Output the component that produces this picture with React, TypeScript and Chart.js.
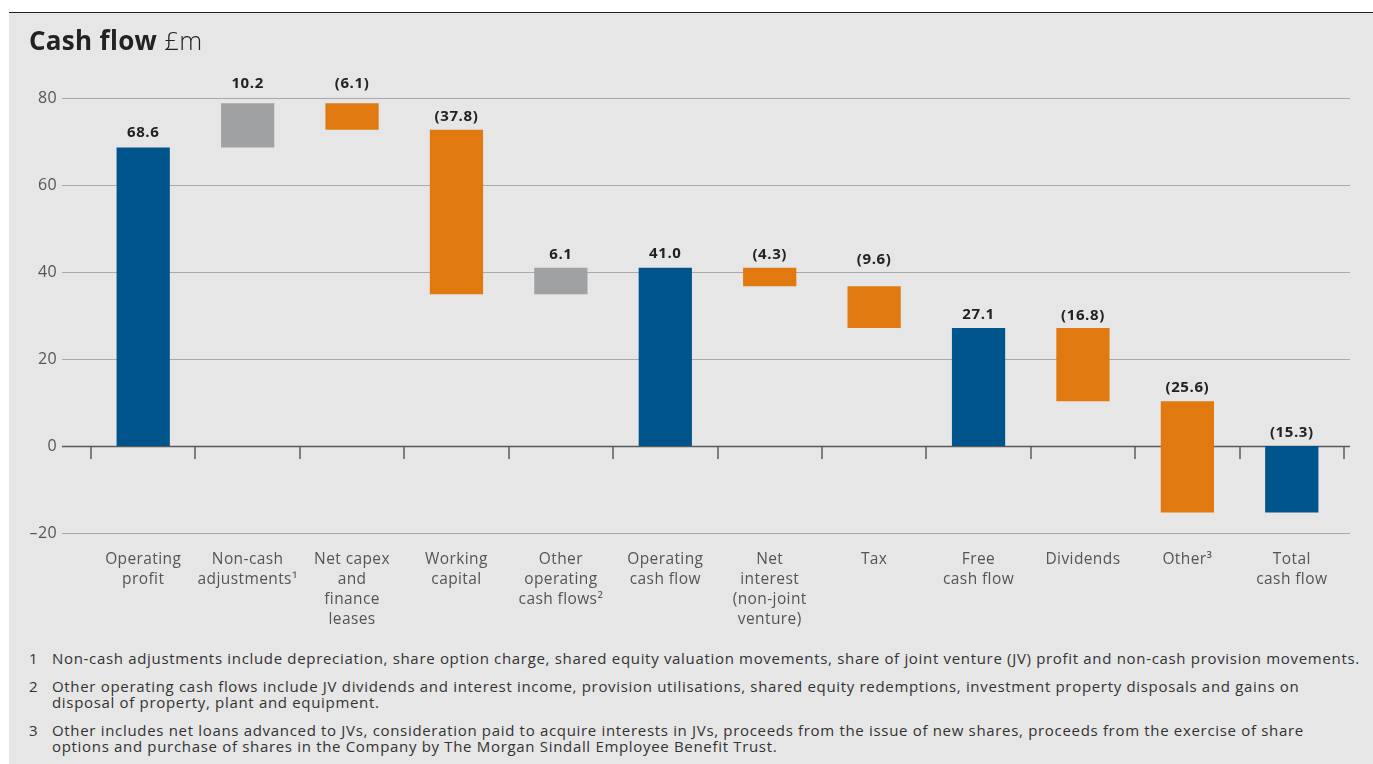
import React, { useEffect, useRef } from "react";
import { Chart, registerables } from "chart.js";

Chart.register(...registerables);

const categories: string[][] = [
  ["Operating", "profit"],
  ["Non-cash", "adjustments¹"],
  ["Net capex", "and", "finance", "leases"],
  ["Working", "capital"],
  ["Other", "operating", "cash flows²"],
  ["Operating", "cash flow"],
  ["Net", "interest", "(non-joint", "venture)"],
  ["Tax"],
  ["Free", "cash flow"],
  ["Dividends"],
  ["Other³"],
  ["Total", "cash flow"],
];

const values: number[] = [68.6, 10.2, -6.1, -37.8, 6.1, 41.0, -4.3, -9.6, 27.1, -16.8, -25.6, -15.3];
const isTotal: boolean[] = [true, false, false, false, false, true, false, false, true, false, false, true];

const yTicks: number[] = [-20, 0, 20, 40, 60, 80];

// vertical gap (px) between bar top and value label centre
const labelGap: number[] = [15, 19, 19, 13, 13, 14, 13, 27, 13, 12, 13, 13];

const footnotes: { n: string; lines: string[] }[] = [
  {
    n: "1",
    lines: [
      "Non-cash adjustments include depreciation, share option charge, shared equity valuation movements, share of joint venture (JV) profit and non-cash provision movements.",
    ],
  },
  {
    n: "2",
    lines: [
      "Other operating cash flows include JV dividends and interest income, provision utilisations, shared equity redemptions, investment property disposals and gains on",
      "disposal of property, plant and equipment.",
    ],
  },
  {
    n: "3",
    lines: [
      "Other includes net loans advanced to JVs, consideration paid to acquire interests in JVs, proceeds from the issue of new shares, proceeds from the exercise of share",
      "options and purchase of shares in the Company by The Morgan Sindall Employee Benefit Trust.",
    ],
  },
];

const BLUE = "rgb(0,84,140)";
const ORANGE = "rgb(224,122,16)";
const GREY = "rgb(160,161,163)";
const FONT = "'Open Sans', sans-serif";

function buildRanges(): [number, number][] {
  const out: [number, number][] = [];
  let running = 0;
  values.forEach((v, i) => {
    if (isTotal[i]) {
      out.push([0, v]);
      running = v;
    } else {
      const next = Math.round((running + v) * 10) / 10;
      out.push([running, next]);
      running = next;
    }
  });
  return out;
}

function fmt(v: number): string {
  return v < 0 ? `(${Math.abs(v).toFixed(1)})` : v.toFixed(1);
}

export default function App() {
  const ref = useRef<HTMLCanvasElement | null>(null);

  useEffect(() => {
    document.body.style.margin = "0";
    const ranges = buildRanges();
    const colors = values.map((v, i) => (isTotal[i] ? BLUE : v >= 0 ? GREY : ORANGE));

    const gridPlugin = {
      id: "customGrid",
      beforeDraw(chart: any) {
        (chart.ctx as any).letterSpacing = "0.4px";
      },
      beforeDatasetsDraw(chart: any) {
        const { ctx, chartArea, scales } = chart;
        const y = scales.y;
        ctx.save();
        yTicks.forEach((t) => {
          const py = Math.round(y.getPixelForValue(t)) + 0.5;
          ctx.beginPath();
          ctx.strokeStyle = t === 0 ? "#5a5a5a" : "#a9a9a9";
          ctx.lineWidth = t === 0 ? 1.5 : 1;
          ctx.moveTo(chartArea.left - 29, py);
          ctx.lineTo(chartArea.right + 6, py);
          ctx.stroke();
        });
        const zy = y.getPixelForValue(0);
        const n = categories.length;
        const w = (chartArea.right - chartArea.left) / n;
        ctx.strokeStyle = "#5a5a5a";
        ctx.lineWidth = 1.5;
        for (let i = 0; i <= n; i++) {
          const px = Math.round(chartArea.left + i * w);
          ctx.beginPath();
          ctx.moveTo(px, zy);
          ctx.lineTo(px, zy + 13);
          ctx.stroke();
        }
        ctx.restore();
      },
      afterDatasetsDraw(chart: any) {
        const { ctx, scales } = chart;
        const y = scales.y;
        const x = scales.x;
        ctx.save();
        ctx.font = `bold 15px ${FONT}`;
        (ctx as any).letterSpacing = "0.6px";
        ctx.fillStyle = "#222";
        ctx.textAlign = "center";
        ctx.textBaseline = "middle";
        ranges.forEach((r, i) => {
          const top = Math.max(r[0], r[1]);
          const px = x.getPixelForValue(i);
          const py = y.getPixelForValue(top) - labelGap[i];
          ctx.fillText(fmt(values[i]), px, py);
        });
        ctx.restore();
      },
    };

    const chart = new Chart(ref.current!, {
      type: "bar",
      data: {
        labels: categories,
        datasets: [
          {
            data: ranges as any,
            backgroundColor: colors,
            borderWidth: 0,
            barPercentage: 0.51,
            categoryPercentage: 1,
          },
        ],
      },
      options: {
        animation: false,
        responsive: false,
        maintainAspectRatio: false,
        layout: { padding: { top: 98, right: 29, left: 0, bottom: 0 } },
        plugins: { legend: { display: false }, tooltip: { enabled: false } },
        scales: {
          x: {
            grid: { display: false, drawTicks: false },
            border: { display: false },
            ticks: {
              color: "#555",
              font: { family: FONT, size: 15.5, lineHeight: 1.29 },
              padding: 17,
              maxRotation: 0,
              autoSkip: false,
            },
            afterFit(scale: any) {
              scale.height = 107;
            },
          },
          y: {
            min: -20,
            max: 80,
            grid: { display: false, drawTicks: false },
            border: { display: false },
            ticks: {
              stepSize: 20,
              color: "#555",
              font: { family: FONT, size: 16 },
              padding: 34,
              callback: (v: any) => String(v).replace("-", "–"),
            },
            afterFit(scale: any) {
              scale.width = 91;
            },
          },
        },
      },
      plugins: [gridPlugin],
    });
    return () => chart.destroy();
  }, []);

  return (
    <div style={{ position: "relative", width: 1373, height: 764, background: "#fff", overflow: "hidden" }}>
      <div
        style={{
          position: "absolute",
          left: 9,
          top: 12,
          width: 1364,
          height: 752,
          background: "rgb(230,230,230)",
          borderTop: "1.5px solid #222",
        }}
      />
      <canvas ref={ref} width={1373} height={640} style={{ position: "absolute", left: 0, top: 0 }} />
      <div
        style={{
          position: "absolute",
          left: 29,
          top: 22,
          fontFamily: FONT,
          fontSize: 26,
          lineHeight: "36px",
          color: "#222",
          whiteSpace: "nowrap",
          letterSpacing: 0.3,
        }}
      >
        <span style={{ fontWeight: 700 }}>Cash flow</span>
        <span style={{ fontWeight: 300 }}> £m</span>
      </div>
      <div
        style={{
          position: "absolute",
          left: 0,
          top: 650,
          fontFamily: FONT,
          fontSize: 15,
          letterSpacing: 0.68,
          color: "#333",
        }}
      >
        {footnotes.map((f) => (
          <div key={f.n} style={{ position: "relative", marginBottom: 12, lineHeight: "16px" }}>
            <span style={{ position: "absolute", left: 29 }}>{f.n}</span>
            <div style={{ marginLeft: 52, whiteSpace: "nowrap" }}>
              {f.lines.map((l, j) => (
                <div key={j}>{l}</div>
              ))}
            </div>
          </div>
        ))}
      </div>
    </div>
  );
}
